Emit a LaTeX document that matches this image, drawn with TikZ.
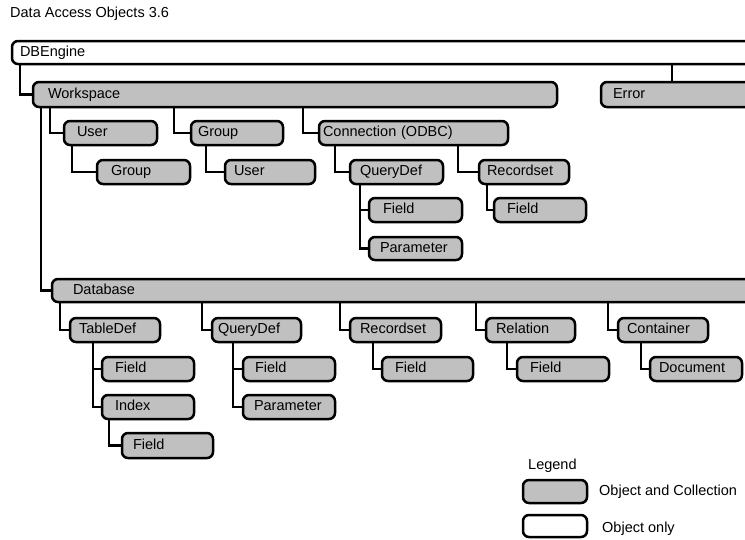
\documentclass[tikz,border=0pt]{standalone}
\usepackage{fontspec}
\setmainfont{Liberation Sans}
\definecolor{boxgray}{HTML}{C0C0C0}
\tikzset{
  basebox/.style={draw=black, line width=2.5pt, rounded corners=6pt, outer sep=0pt, inner ysep=0pt,
    align=left, text height=10.5pt, text depth=3pt, font=\fontsize{14.5}{16}\selectfont},
  grayobj/.style={basebox, fill=boxgray},
  whiteobj/.style={basebox, fill=white},
  conn/.style={draw=black, line width=2.5pt},
  plaintext/.style={font=\fontsize{14.5}{16}\selectfont, inner sep=0pt, anchor=west}
}
% #1 style, #2 name, #3 x1, #4 y1, #5 x2, #6 y2, #7 text x, #8 text
\newcommand{\objbox}[8]{%
  \pgfmathsetmacro\ow{#5-#3}%
  \pgfmathsetmacro\oh{#6-#4}%
  \pgfmathsetmacro\op{#7-#3}%
  \pgfmathsetmacro\otw{#5-#3-2*(#7-#3)}%
  \node[#1, anchor=north west, minimum width=\ow pt, minimum height=\oh pt,
        inner xsep=\op pt, text width=\otw pt] (#2) at (#3,#4) {#8};%
}
\begin{document}
\begin{tikzpicture}[x=1pt,y=-1pt]
\useasboundingbox (0,0) rectangle (745,539);
\clip (0,0) rectangle (745,539);

\node[plaintext] (title) at (10,14) {Data Access Objects 3.6};

% boxes
\objbox{whiteobj}{dbe}{12}{41}{765}{64}{20}{DBEngine}
\objbox{grayobj}{ws}{33}{82}{557}{107}{48}{Workspace}
\objbox{grayobj}{err}{601}{82}{765}{107}{613}{Error}
\objbox{grayobj}{user1}{64}{121}{157}{145}{77}{User}
\objbox{grayobj}{grp1}{191}{121}{283}{145}{198}{Group}
\objbox{grayobj}{conn}{319}{121}{508}{145}{323}{Connection (ODBC)}
\objbox{grayobj}{grp2}{97}{160}{190}{184}{111}{Group}
\objbox{grayobj}{user2}{225}{160}{315}{184}{234}{User}
\objbox{grayobj}{qd1}{350}{160}{443}{184}{360}{QueryDef}
\objbox{grayobj}{rs1}{479}{160}{569}{184}{487}{Recordset}
\objbox{grayobj}{fld1}{369}{198}{462}{222}{383}{Field}
\objbox{grayobj}{par1}{369}{237}{462}{260}{380}{Parameter}
\objbox{grayobj}{fld2}{494}{198}{586}{222}{507}{Field}

\objbox{grayobj}{db}{52}{279}{765}{302}{73}{Database}
\objbox{grayobj}{td}{70}{318}{160}{342}{79}{TableDef}
\objbox{grayobj}{qd2}{212}{318}{301}{342}{218}{QueryDef}
\objbox{grayobj}{rs2}{350}{318}{441}{342}{360}{Recordset}
\objbox{grayobj}{rel}{486}{318}{575}{342}{496}{Relation}
\objbox{grayobj}{cont}{618}{318}{708}{342}{627}{Container}
\objbox{grayobj}{fld3}{102}{357}{194}{381}{115}{Field}
\objbox{grayobj}{idx}{102}{395}{194}{419}{115}{Index}
\objbox{grayobj}{fld4}{122}{433}{213}{458}{133}{Field}
\objbox{grayobj}{fld5}{243}{357}{335}{381}{255}{Field}
\objbox{grayobj}{par2}{243}{395}{335}{419}{254}{Parameter}
\objbox{grayobj}{fld6}{382}{357}{473}{381}{395}{Field}
\objbox{grayobj}{fld7}{517}{357}{609}{381}{530}{Field}
\objbox{grayobj}{doc}{650}{357}{742}{381}{659}{Document}

% connectors
\draw[conn] ([xshift=8pt]dbe.south west) |- (ws.west);
\draw[conn] ([xshift=71pt]err.north west) -- ([xshift=71pt]err.north west |- dbe.south);
\draw[conn] ([xshift=8pt]ws.south west) |- (db.west);
\draw[conn] ([xshift=17pt]ws.south west) |- (user1.west);
\draw[conn] ([xshift=141pt]ws.south west) |- (grp1.west);
\draw[conn] ([xshift=270pt]ws.south west) |- (conn.west);
\draw[conn] ([xshift=8pt]user1.south west) |- (grp2.west);
\draw[conn] ([xshift=15pt]grp1.south west) |- (user2.west);
\draw[conn] ([xshift=16pt]conn.south west) |- (qd1.west);
\draw[conn] ([xshift=139pt]conn.south west) |- (rs1.west);
\draw[conn] ([xshift=10pt]qd1.south west) |- (par1.west);
\draw[conn] ([xshift=10pt]qd1.south west) |- (fld1.west);
\draw[conn] ([xshift=8pt]rs1.south west) |- (fld2.west);

\draw[conn] ([xshift=8pt]db.south west) |- (td.west);
\draw[conn] ([xshift=150pt]db.south west) |- (qd2.west);
\draw[conn] ([xshift=288pt]db.south west) |- (rs2.west);
\draw[conn] ([xshift=424pt]db.south west) |- (rel.west);
\draw[conn] ([xshift=556pt]db.south west) |- (cont.west);
\draw[conn] ([xshift=23pt]td.south west) |- (idx.west);
\draw[conn] ([xshift=23pt]td.south west) |- (fld3.west);
\draw[conn] ([xshift=7pt]idx.south west) |- (fld4.west);
\draw[conn] ([xshift=21pt]qd2.south west) |- (par2.west);
\draw[conn] ([xshift=21pt]qd2.south west) |- (fld5.west);
\draw[conn] ([xshift=23pt]rs2.south west) |- (fld6.west);
\draw[conn] ([xshift=21pt]rel.south west) |- (fld7.west);
\draw[conn] ([xshift=23pt]cont.south west) |- (doc.west);

% legend
\node[plaintext] (legtitle) at (528,466) {Legend};
\objbox{grayobj}{leg1}{523}{480}{587}{503}{530}{}
\objbox{whiteobj}{leg2}{523}{515}{587}{537}{530}{}
\node[plaintext] (leg1txt) at (599,492) {Object and Collection};
\node[plaintext] (leg2txt) at (602,529) {Object only};
\end{tikzpicture}
\end{document}
